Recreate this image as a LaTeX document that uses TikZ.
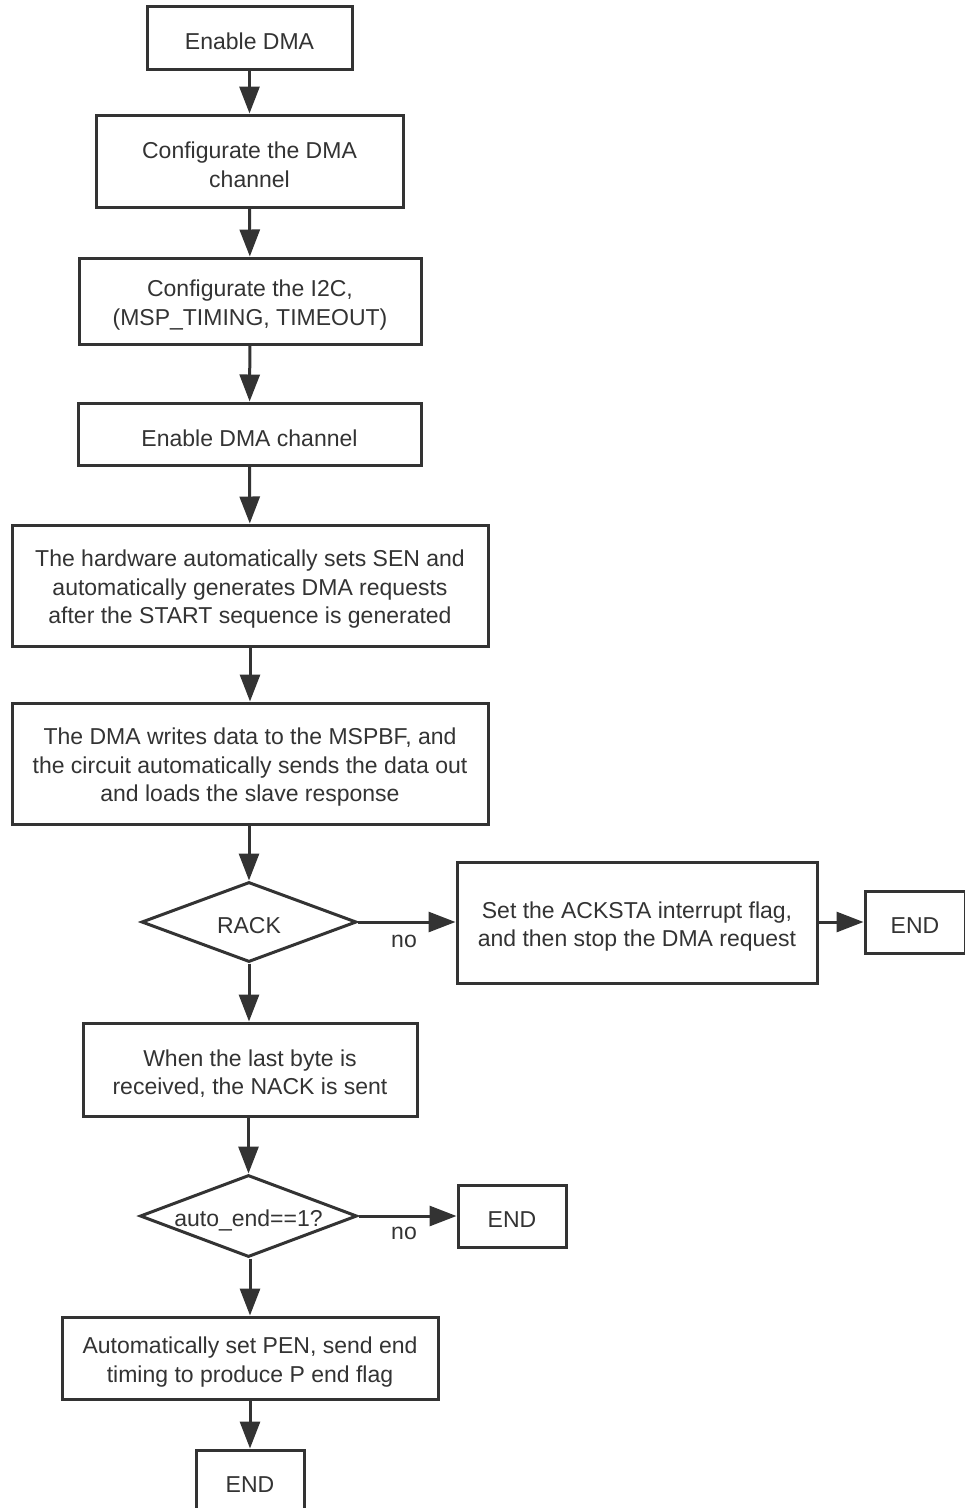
\documentclass[tikz,border=0pt]{standalone}
\usepackage{fontspec}
\setmainfont{Liberation Sans}
\usetikzlibrary{arrows.meta,shapes.geometric}
\definecolor{ink}{HTML}{333333}
\begin{document}
\begin{tikzpicture}[x=1pt,y=-1pt,
  every node/.style={font=\fontsize{23}{28.5}\selectfont, text=ink},
  box/.style={draw=ink, line width=3pt, fill=white, inner sep=0pt, rectangle},
  dia/.style={draw=ink, line width=3pt, fill=white, inner sep=0pt, diamond, aspect=2.68},
  txt/.style={align=center, inner sep=0pt},
  conn/.style={draw=ink, line width=3pt, -{Triangle[length=27pt,width=20pt]}},
  lbl/.style={inner sep=0pt}]
\useasboundingbox (0,0) rectangle (965,1508);
\clip (0,0) rectangle (965,1508);
% frames
\node[box, minimum width=205pt, minimum height=63pt] (n1) at (249.5,37.5) {};
\node[box, minimum width=307pt, minimum height=92pt] (n2) at (249.5,161) {};
\node[box, minimum width=342pt, minimum height=86pt] (n3) at (250,301) {};
\node[box, minimum width=343pt, minimum height=62pt] (n4) at (249.5,434) {};
\node[box, minimum width=476pt, minimum height=121pt] (n5) at (250,585.5) {};
\node[box, minimum width=476pt, minimum height=121pt] (n6) at (250,763.5) {};
\node[dia, minimum width=215pt, minimum height=80pt] (d1) at (249,922) {};
\node[box, minimum width=360pt, minimum height=121pt] (n7) at (637,922.5) {};
\node[box, minimum width=100pt, minimum height=62pt] (e1) at (915,922) {};
\node[box, minimum width=334pt, minimum height=93pt] (n8) at (250,1069.5) {};
\node[dia, minimum width=217pt, minimum height=82pt] (d2) at (248.5,1216) {};
\node[box, minimum width=108pt, minimum height=62pt] (e2) at (512,1216) {};
\node[box, minimum width=376pt, minimum height=82pt] (n9) at (250,1358) {};
\node[box, minimum width=108pt, minimum height=62pt] (e3) at (250,1481) {};
% texts
\node[txt] (t1) at ([yshift=-4pt]n1.center) {Enable DMA};
\node[txt] (t2) at ([yshift=-4pt]n2.center) {Configurate the DMA\\channel};
\node[txt] (t3) at ([yshift=-4pt]n3.center) {Configurate the I2C,\\(MSP\_TIMING, TIMEOUT)};
\node[txt] (t4) at ([yshift=-4pt]n4.center) {Enable DMA channel};
\node[txt] (t5) at ([yshift=-4pt]n5.center) {The hardware automatically sets SEN and\\automatically generates DMA requests\\after the START sequence is generated};
\node[txt] (t6) at ([yshift=-4pt]n6.center) {The DMA writes data to the MSPBF, and\\the circuit automatically sends the data out\\and loads the slave response};
\node[txt] (td1) at ([yshift=-4pt]d1.center) {RACK};
\node[txt] (t7) at ([yshift=-4pt]n7.center) {Set the ACKSTA interrupt flag,\\and then stop the DMA request};
\node[txt] (te1) at ([yshift=-4pt]e1.center) {END};
\node[txt] (t8) at ([yshift=-4pt]n8.center) {When the last byte is\\received, the NACK is sent};
\node[txt] (td2) at ([yshift=-4pt]d2.center) {auto\_end==1?};
\node[txt] (te2) at ([yshift=-4pt]e2.center) {END};
\node[txt] (t9) at ([yshift=-4pt]n9.center) {Automatically set PEN, send end\\timing to produce P end flag};
\node[txt] (te3) at ([yshift=-4pt]e3.center) {END};
% connectors
\draw[conn] (n1) -- (n2);
\draw[conn] (n2) -- (n3);
\draw[conn] (n3) -- (n4);
\draw[conn] (n4) -- (n5);
\draw[conn] (n5) -- (n6);
\draw[conn] (n6.south -| d1.north) -- (d1.north);
\draw[conn] (d1.east) -- (n7.west |- d1.east);
\draw[conn] (n7.east |- e1.west) -- (e1.west);
\draw[conn] (d1) -- (d1 |- n8.north);
\draw[conn] (n8.south -| d2.north) -- (d2.north);
\draw[conn] (d2.east) -- (e2.west);
\draw[conn] (d2.south -| n9.north) -- (n9.north);
\draw[conn] (n9) -- (e3);
\node[lbl] (no1) at (404,941) {no};
\node[lbl] (no2) at (404,1233) {no};
\end{tikzpicture}
\end{document}
